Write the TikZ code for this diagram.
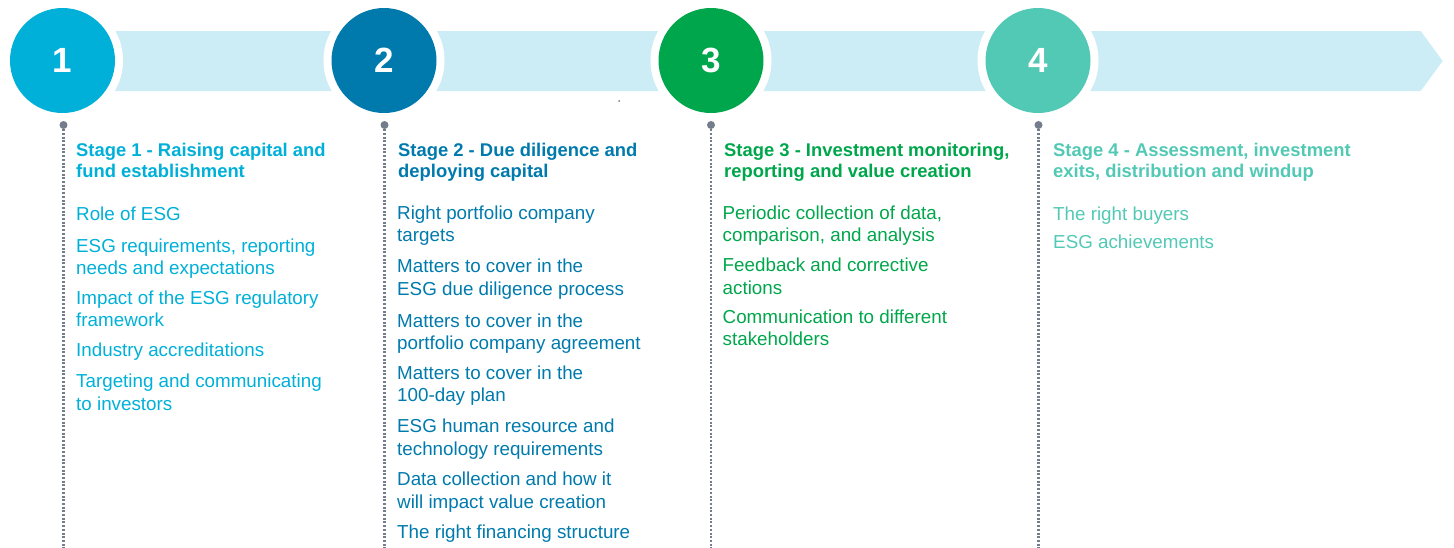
\documentclass[tikz,border=0pt]{standalone}
\usepackage{fontspec}
\setmainfont{Liberation Sans}
\definecolor{cone}{HTML}{00B0D8}
\definecolor{ctwo}{HTML}{007AAD}
\definecolor{cthree}{HTML}{00A64B}
\definecolor{cfour}{HTML}{52C9B4}
\definecolor{bandc}{HTML}{CCEDF6}
\definecolor{greyc}{HTML}{737D8C}
\newcommand{\bodyfont}{\fontsize{18.8}{22.2}\selectfont}
\newcommand{\headfont}{\bfseries\fontsize{18.4}{21}\selectfont}
\begin{document}
\begin{tikzpicture}[x=1pt,y=-1pt,
  ring/.style={circle, fill=white, minimum size=121pt, inner sep=0pt},
  stagecircle/.style={circle, minimum size=105pt, inner sep=0pt, text=white,
     font=\bfseries\fontsize{35}{35}\selectfont},
  pindot/.style={circle, fill=greyc, minimum size=8pt, inner sep=0pt},
  dotline/.style={greyc, line width=2.2pt, dash pattern=on 2pt off 1.7pt},
  headtext/.style={anchor=base west, align=left, inner sep=0pt, font=\headfont},
  itemtext/.style={anchor=base west, align=left, inner sep=0pt, font=\bodyfont}]
\useasboundingbox (0,0) rectangle (1454,547);
% band arrow
\fill[bandc] (62,31) -- (1420.7,31) -- (1442.7,61) -- (1420.7,91) -- (62,91) -- cycle;
% white rings
\node[ring] (r1) at (62.5,60.5) {};
\node[ring] (r2) at (384,60.5) {};
\node[ring] (r3) at (711,60.5) {};
\node[ring] (r4) at (1038,60.5) {};
% stage circles
\node[stagecircle, fill=cone] (c1) at (62.5,60.5) {1};
\node[stagecircle, fill=ctwo] (c2) at (384,60.5) {2};
\node[stagecircle, fill=cthree] (c3) at (711,60.5) {3};
\node[stagecircle, fill=cfour] (c4) at (1038,60.5) {4};
% stray dot
\fill[greyc] (619,101) circle (1pt);
% dotted lines
\node[pindot] (p1) at (63.5,125) {};
\node[pindot] (p2) at (384.5,125) {};
\node[pindot] (p3) at (711,125) {};
\node[pindot] (p4) at (1038.5,125) {};
\coordinate (e1) at (63.5,548);
\coordinate (e2) at (384.5,548);
\coordinate (e3) at (711,548);
\coordinate (e4) at (1038.5,548);
\draw[dotline] (p1) -- (e1);
\draw[dotline] (p2) -- (e2);
\draw[dotline] (p3) -- (e3);
\draw[dotline] (p4) -- (e4);
% (each text node is placed at the baseline of its last line)
% Stage 1
\node[headtext, text=cone] (h1) at (76,177.7) {Stage 1 - Raising capital and\\fund establishment};
\node[itemtext, text=cone] (a1) at (76,220) {Role of ESG};
\node[itemtext, text=cone] (a2) at (76,274.3) {ESG requirements, reporting\\needs and expectations};
\node[itemtext, text=cone] (a3) at (76,326.7) {Impact of the ESG regulatory\\framework};
\node[itemtext, text=cone] (a4) at (76,356.7) {Industry accreditations};
\node[itemtext, text=cone] (a5) at (76,410) {Targeting and communicating\\to investors};
% Stage 2
\node[headtext, text=ctwo] (h2) at (398,177.5) {Stage 2 - Due diligence and\\deploying capital};
\node[itemtext, text=ctwo] (b1) at (397,241.7) {Right portfolio company\\targets};
\node[itemtext, text=ctwo] (b2) at (397,295) {Matters to cover in the\\ESG due diligence process};
\node[itemtext, text=ctwo] (b3) at (397,349.3) {Matters to cover in the\\portfolio company agreement};
\node[itemtext, text=ctwo] (b4) at (397,401.7) {Matters to cover in the\\100-day plan};
\node[itemtext, text=ctwo] (b5) at (397,455) {ESG human resource and\\technology requirements};
\node[itemtext, text=ctwo] (b6) at (397,508) {Data collection and how it\\will impact value creation};
\node[itemtext, text=ctwo] (b7) at (397,538.5) {The right financing structure};
% Stage 3
\node[headtext, text=cthree] (h3) at (724,177.3) {Stage 3 - Investment monitoring,\\reporting and value creation};
\node[itemtext, text=cthree] (d1) at (722.5,241.7) {Periodic collection of data,\\comparison, and analysis};
\node[itemtext, text=cthree] (d2) at (722.5,294) {Feedback and corrective\\actions};
\node[itemtext, text=cthree] (d3) at (722.5,345.7) {Communication to different\\stakeholders};
% Stage 4
\node[headtext, text=cfour] (h4) at (1053,177.3) {Stage 4 - Assessment, investment\\exits, distribution and windup};
\node[itemtext, text=cfour] (f1) at (1053,220) {The right buyers};
\node[itemtext, text=cfour] (f2) at (1053,248.3) {ESG achievements};
\end{tikzpicture}
\end{document}
